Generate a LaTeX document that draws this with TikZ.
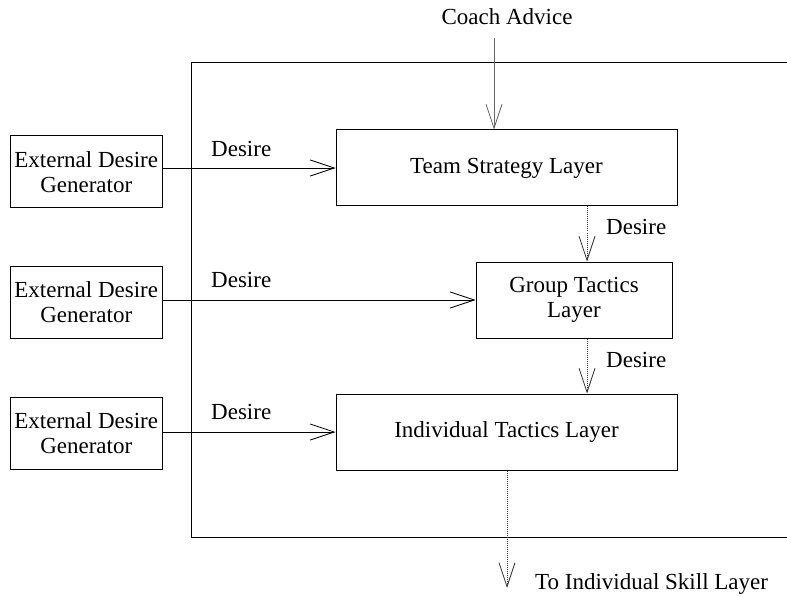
\documentclass[tikz,border=0pt]{standalone}
\usepackage{fontspec}
\setmainfont{Liberation Serif}
\usetikzlibrary{arrows.meta}
\begin{document}
\begin{tikzpicture}[x=1pt,y=-1pt,
  box/.style={draw,line width=1pt,inner sep=0pt,align=center,font=\fontsize{23}{25}\selectfont},
  lbl/.style={inner sep=0pt,font=\fontsize{23}{25}\selectfont},
  arr/.style={line width=0.8pt,-{Straight Barb[length=24pt,width=16pt,line width=0.8pt]}},
  dotarr/.style={arr,dash pattern=on 1pt off 1pt,color=black!80}]
\useasboundingbox (0,0) rectangle (787,596);
% outer frame (open to the right)
\draw[line width=1pt] (787,62.5) -- (191,62.5) -- (191,537) -- (787,537);
% external generators
\node[box,minimum width=151.5pt,minimum height=72pt] (e1) at (86.25,172) {External Desire\\Generator};
\node[box,minimum width=151.5pt,minimum height=72pt] (e2) at (86.25,302) {External Desire\\Generator};
\node[box,minimum width=151.5pt,minimum height=72pt] (e3) at (86.25,433) {External Desire\\Generator};
% layers
\node[box,minimum width=341pt,minimum height=76pt] (ts) at (506.5,168) {Team Strategy Layer};
\node[box,minimum width=196pt,minimum height=76pt] (gt) at (574,300) {Group Tactics\\Layer};
\node[box,minimum width=341pt,minimum height=76pt] (it) at (506.5,432) {Individual Tactics Layer};
% coach advice
\node[lbl,anchor=base] (ca) at (507,25) {Coach Advice};
\coordinate (cas) at (494,38);
\draw[arr,color=black!60] (cas) -- (cas |- ts.north);
% desire arrows from generators
\draw[arr] (e1.east |- ts.west) -- (ts.west);
\node[lbl,anchor=base west] (dl1) at (211,157) {Desire};
\draw[arr] (e2.east |- gt.west) -- (gt.west);
\node[lbl,anchor=base west] (dl2) at (211,287) {Desire};
\draw[arr] (e3.east |- it.west) -- (it.west);
\node[lbl,anchor=base west] (dl3) at (211,419) {Desire};
% dotted desire arrows
\coordinate (d1) at (587,0);
\draw[dotarr] (d1 |- ts.south) -- (d1 |- gt.north);
\node[lbl,anchor=base west] (dl4) at (606,235) {Desire};
\draw[dotarr] (d1 |- gt.south) -- (d1 |- it.north);
\node[lbl,anchor=base west] (dl5) at (606,367) {Desire};
% to skill layer
\coordinate (sk) at (507,588);
\draw[dotarr] (sk |- it.south) -- (sk);
\node[lbl,anchor=base west] (skl) at (535,589) {To Individual Skill Layer};
\end{tikzpicture}
\end{document}
